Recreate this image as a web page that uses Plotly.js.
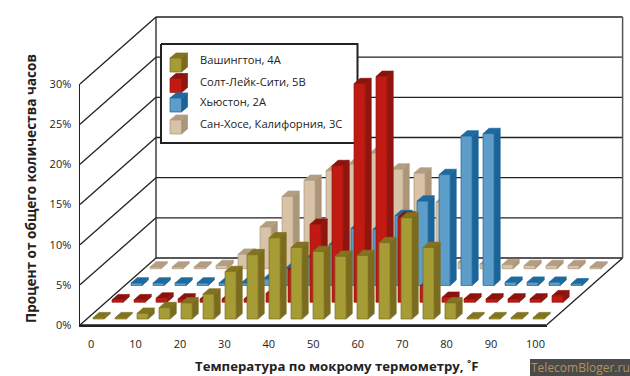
<!DOCTYPE html>
<html><head><meta charset="utf-8">
<script src="https://cdn.plot.ly/plotly-3.0.1.min.js"></script>
<style>html,body{margin:0;padding:0;background:#fff}#c{width:630px;height:376px}</style>
</head><body><div id="c"></div>
<script>
const bins = [0,5,10,15,20,25,30,35,40,45,50,55,60,65,70,75,80,85,90,95,100];
const washington = [0.15,0.15,0.7,1.4,2,3.1,5.9,8,10.1,8.9,8.4,7.8,7.9,9.5,12.6,8.9,2,0.15,0.15,0.15,0.15];
const saltLake = [0.3,0.3,0.5,0.4,0.4,0.4,0.4,1.1,4.1,9.7,17,27.2,28.1,10.6,2,0.6,0.4,0.4,0.4,0.4,0.8];
const houston = [0.3,0.3,0.3,0.3,0.3,0.3,0.8,2.1,3.5,5.1,7.1,7,8.7,10.5,13.8,18.6,18.9,0.4,0.4,0.4,0.2];
const sanJose = [0.2,0.2,0.2,0.4,1.8,5.2,9,11,12.2,13,14.4,12.4,11.9,8.3,0.8,0.6,0.5,0.4,0.4,0.4,0.2];
const yTicks = [0,5,10,15,20,25,30];
const xTickLabels = [0,10,20,30,40,50,60,70,80,90,100];
const seriesNames = ['Вашингтон, 4А','Солт-Лейк-Сити, 5В','Хьюстон, 2А','Сан-Хосе, Калифорния, 3С'];
const frontColors = ['#a59c35','#c01a12','#5c9dc9','#d8c3a9'];
const sideColors = ['#7b6b1f','#8f150f','#1b6498','#ab967a'];
const topColors = ['#81731f','#8c120c','#1d6a9f','#b39d83'];

// plot frame in page pixels
const L=80,R=546.6,T=84,B=325,W=630,H=376;
const unitX=(R-L)/21, unitY=(B-T)/30;
// oblique depth vector for one of the four rows, in axis units
const rowDX=19/unitX, rowDY=16.75/unitY;
const ux=p=>(p-L)/unitX, uy=p=>(B-p)/unitY;
const P=(u,d,v)=>[u+d*rowDX, v+d*rowDY];
// bars sit slightly tighter than the floor width
const barStep=0.99, barStart=0.28, barWidth=0.5;

function poly(xs,ys,pts){pts.forEach(p=>{xs.push(p[0]);ys.push(p[1]);});xs.push(pts[0][0]);ys.push(pts[0][1]);xs.push(null);ys.push(null);}
function fillTrace(xs,ys,color,lineColor,name){return {type:'scatter',mode:'lines',x:xs,y:ys,fill:'toself',fillcolor:color,
  line:{color:lineColor||color,width:0.7,simplify:false},cliponaxis:false,hoverinfo:'skip',showlegend:false,name:name||''};}

function barTraces(values,row,k){
  const f={x:[],y:[]},s={x:[],y:[]},t={x:[],y:[]};
  const d0=row+0.36,d1=row+0.68;
  values.forEach((v,i)=>{
    const a=i*barStep+barStart,b=a+barWidth;
    poly(s.x,s.y,[P(b,d0,0),P(b,d1,0),P(b,d1,v),P(b,d0,v)]);
    poly(t.x,t.y,[P(a,d0,v),P(b,d0,v),P(b,d1,v),P(a,d1,v)]);
    poly(f.x,f.y,[P(a,d0,0),P(b,d0,0),P(b,d0,v),P(a,d0,v)]);
  });
  return [fillTrace(s.x,s.y,sideColors[k],null,seriesNames[k]),fillTrace(t.x,t.y,topColors[k],null,seriesNames[k]),
          fillTrace(f.x,f.y,frontColors[k],sideColors[k],seriesNames[k])];
}

// walls
const wall={x:[],y:[]};
const seg=(a,b)=>{wall.x.push(a[0],b[0],null);wall.y.push(a[1],b[1],null);};
yTicks.forEach(v=>{seg(P(0,0,v),P(0,4,v));seg(P(0,4,v),P(21,4,v));});
seg(P(0,4,0),P(0,4,30));
seg(P(21,0,0),P(21,4,0));
const rightWall={x:[],y:[]};
{const a=P(21,4,0),b=P(21,4,30);rightWall.x.push(a[0],b[0]);rightWall.y.push(a[1],b[1]);}

const traces=[
 {type:'scatter',mode:'lines',x:wall.x,y:wall.y,line:{color:'#222',width:1.3,simplify:false},hoverinfo:'skip',showlegend:false},
 {type:'scatter',mode:'lines',x:rightWall.x,y:rightWall.y,line:{color:'#555',width:1.5,simplify:false},hoverinfo:'skip',showlegend:false}
];
// legend box
{const x=[ux(161),ux(357.5),ux(357.5),ux(161),ux(161)],y=[uy(44),uy(44),uy(143),uy(143),uy(44)];
 traces.push({type:'scatter',mode:'lines',x,y,fill:'toself',fillcolor:'#fff',line:{color:'#222',width:2,simplify:false},hoverinfo:'skip',showlegend:false});}
// legend cubes
const legendRowY=[72,92.5,112,134];
legendRowY.forEach((py,k)=>{
  const x0=170,w=11.5,h=14,dx=6,dy=5;
  const f={x:[],y:[]},s={x:[],y:[]},t={x:[],y:[]};
  poly(s.x,s.y,[[ux(x0+w),uy(py)],[ux(x0+w+dx),uy(py-dy)],[ux(x0+w+dx),uy(py-dy-h)],[ux(x0+w),uy(py-h)]]);
  poly(t.x,t.y,[[ux(x0),uy(py-h)],[ux(x0+w),uy(py-h)],[ux(x0+w+dx),uy(py-h-dy)],[ux(x0+dx),uy(py-h-dy)]]);
  poly(f.x,f.y,[[ux(x0),uy(py)],[ux(x0+w),uy(py)],[ux(x0+w),uy(py-h)],[ux(x0),uy(py-h)]]);
  traces.push(fillTrace(s.x,s.y,sideColors[k]),fillTrace(t.x,t.y,topColors[k]),fillTrace(f.x,f.y,frontColors[k],sideColors[k]));
});
// bars, back row first
[[sanJose,3,3],[houston,2,2],[saltLake,1,1],[washington,0,0]].forEach(([vals,row,k])=>traces.push(...barTraces(vals,row,k)));
// the labelled front axes share the same units and sit on the front plane
traces.push({type:'scatter',mode:'lines',x:[0,21],y:[0,0],xaxis:'x2',yaxis:'y2',line:{color:'#222',width:1.5},hoverinfo:'skip',showlegend:false});

const font='"Open Sans", "Noto Sans", sans-serif';
const px=p=>p/W, py=p=>1-p/H;
const legendTextY=[60,81,102,124];
const annotations=seriesNames.map((n,k)=>({text:n,xref:'paper',yref:'paper',x:px(198),y:py(legendTextY[k]),xanchor:'left',yanchor:'middle',showarrow:false,font:{family:font,size:11.2,color:'#222'}}));
annotations.push({text:'Температура по мокрому термометру, ˚F',xref:'paper',yref:'paper',x:px(336.5),y:py(366),xanchor:'center',yanchor:'middle',showarrow:false,font:{family:font,size:13.2,color:'#222',weight:700}});
annotations.push({text:'Процент от общего количества часов',xref:'paper',yref:'paper',x:px(30),y:py(189),xanchor:'center',yanchor:'middle',textangle:-90,showarrow:false,font:{family:font,size:13.6,color:'#222',weight:700}});
annotations.push({text:'TelecomBloger.ru',xref:'paper',yref:'paper',x:px(580),y:py(367.5),xanchor:'center',yanchor:'middle',showarrow:false,font:{family:font,size:12,color:'#b3935a'}});

const layout={
  width:W,height:H,margin:{l:0,r:0,t:0,b:0,pad:0},paper_bgcolor:'#fff',plot_bgcolor:'rgba(0,0,0,0)',showlegend:false,
  font:{family:font,size:11,color:'#222'},
  xaxis:{domain:[0,1],range:[ux(0),ux(W)],visible:false,fixedrange:true},
  yaxis:{domain:[0,1],range:[uy(H),uy(0)],visible:false,fixedrange:true},
  xaxis2:{domain:[L/W,R/W],anchor:'y2',range:[0,21],tickmode:'array',tickvals:xTickLabels.map(v=>bins.indexOf(v)+0.5),ticktext:xTickLabels.map(String),
    showgrid:false,zeroline:false,showline:true,linecolor:'#222',linewidth:1.5,ticks:'outside',tickcolor:'rgba(0,0,0,0)',ticklen:8,tickfont:{family:font,size:11,color:'#222'},automargin:false},
  yaxis2:{domain:[1-B/H,1-T/H],anchor:'x2',range:[0,30],tickmode:'array',tickvals:yTicks,ticktext:yTicks.map(v=>v+'%'),
    showgrid:false,zeroline:false,showline:true,linecolor:'#222',linewidth:1.5,ticks:'outside',tickcolor:'rgba(0,0,0,0)',ticklen:5,tickfont:{family:font,size:11,color:'#222'},automargin:false},
  shapes:[{type:'rect',xref:'paper',yref:'paper',x0:px(530),x1:px(630),y0:py(359),y1:py(376),fillcolor:'#4a4a48',line:{width:0},layer:'below'}],
  annotations
};
Plotly.newPlot('c',traces,layout,{displayModeBar:false,staticPlot:true});
</script></body></html>
